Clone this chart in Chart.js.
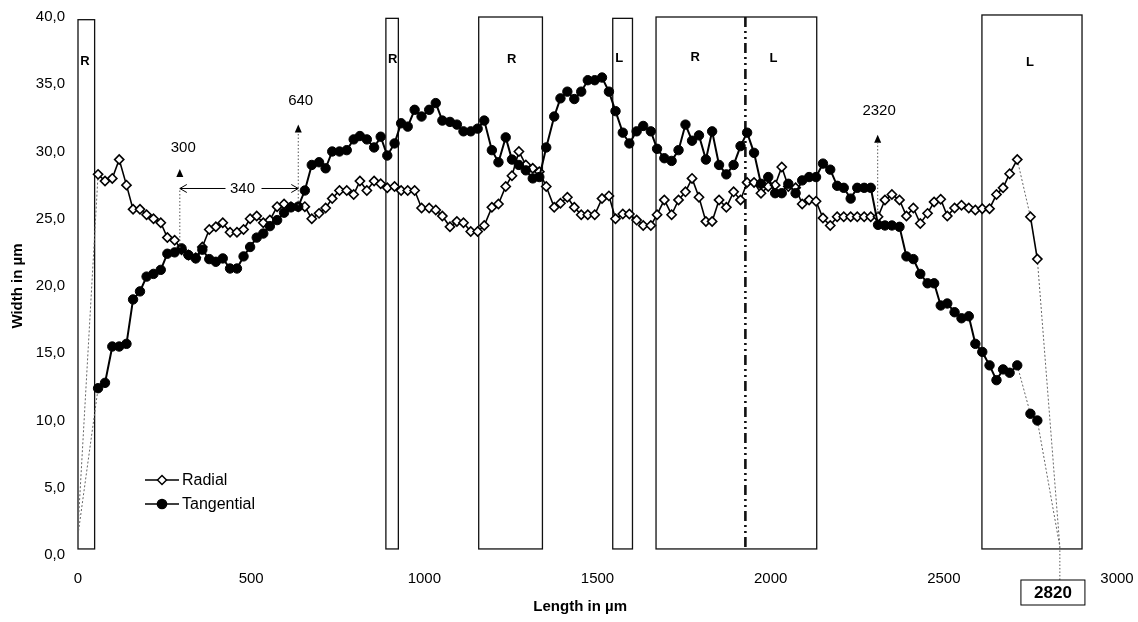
<!DOCTYPE html>
<html><head><meta charset="utf-8">
<script src="https://cdn.jsdelivr.net/npm/chart.js@4.4.1/dist/chart.umd.min.js"></script>
<style>html,body{margin:0;padding:0;background:#fff;}#wrap{width:1138px;height:622px;}</style>
</head><body><div id="wrap"><canvas id="c" width="1138" height="622"></canvas></div>
<script>
// ---- data (µm along the ray, width in µm) ----
const lengths = [0,58,78,99,119,140,159,179,198,218,
239,258,279,299,319,340,359,379,398,418,
439,459,478,497,516,535,554,575,595,615,
636,655,675,696,715,734,755,776,796,814,
834,855,874,893,914,933,952,972,992,1014,
1033,1052,1074,1094,1113,1134,1154,1173,1195,1214,
1235,1253,1273,1293,1313,1332,1352,1375,1393,1413,
1433,1453,1472,1492,1513,1533,1552,1573,1592,1613,
1632,1654,1672,1693,1714,1734,1754,1773,1793,1813,
1831,1851,1872,1893,1913,1932,1952,1972,1993,2013,
2032,2051,2072,2091,2111,2131,2151,2172,2192,2211,
2231,2250,2270,2289,2310,2330,2350,2372,2392,2412,
2432,2453,2472,2491,2510,2531,2551,2572,2591,2611,
2632,2652,2671,2690,2712,2750,2770,2835];
const radial = [2.0,28.3,27.8,28.0,29.4,27.5,25.7,25.7,25.3,25.0,
24.7,23.6,23.4,22.7,22.3,22.1,22.9,24.2,24.4,24.7,
24.0,24.0,24.2,25.0,25.2,24.7,24.9,25.9,26.1,25.9,
25.9,25.9,25.0,25.4,25.8,26.5,27.1,27.1,26.8,27.8,
27.1,27.8,27.6,27.3,27.4,27.1,27.1,27.1,25.8,25.8,
25.65,25.2,24.4,24.8,24.7,24.05,24.05,24.5,25.85,26.1,
27.4,28.2,30.0,29.0,28.75,28.5,27.4,25.85,26.15,26.6,
25.85,25.3,25.3,25.3,26.5,26.7,25.0,25.35,25.35,24.9,
24.5,24.5,25.3,26.4,25.3,26.4,27.0,28.0,26.6,24.8,
24.8,26.4,25.85,27.0,26.4,27.7,27.7,26.9,27.4,27.5,
28.85,27.4,27.3,26.1,26.4,26.3,25.05,24.5,25.15,25.15,
25.15,25.15,25.15,25.15,25.15,26.4,26.8,26.4,25.2,25.8,
24.65,25.4,26.25,26.45,25.2,25.8,26.0,25.8,25.65,25.75,
25.75,26.8,27.3,28.35,29.4,25.15,22.0,0.6];
const tangential = [1.5,12.4,12.8,15.5,15.5,15.7,19.0,19.6,20.7,20.9,
21.2,22.4,22.5,22.8,22.3,22.05,22.7,22.0,21.8,22.05,
21.3,21.3,22.2,22.9,23.6,23.9,24.45,24.9,25.45,25.85,
25.9,27.1,29.0,29.2,28.75,30.0,30.0,30.1,30.9,31.15,
30.9,30.3,31.1,29.7,30.6,32.1,31.85,33.1,32.6,33.1,
33.6,32.3,32.2,32.0,31.5,31.5,31.7,32.3,30.1,29.2,
31.05,29.4,29.0,28.6,28.0,28.1,30.3,32.6,33.95,34.45,
33.9,34.45,35.3,35.3,35.5,34.45,33.0,31.4,30.6,31.5,
31.9,31.5,30.2,29.5,29.3,30.1,32.0,30.8,31.2,29.4,
31.5,29.0,28.3,29.0,30.4,31.4,29.9,27.6,28.1,26.9,
26.9,27.6,26.9,27.85,28.1,28.1,29.1,28.65,27.45,27.3,
26.5,27.3,27.3,27.3,24.55,24.5,24.5,24.4,22.2,22.0,
20.9,20.2,20.2,18.55,18.7,18.05,17.6,17.75,15.7,15.1,
14.1,13.0,13.8,13.55,14.1,10.5,10.0,0.6];
const seriesNames = ['Radial','Tangential'];
const xTickValues = [0,500,1000,1500,2000,2500,3000];
const yTickValues = [0,5,10,15,20,25,30,35,40];
// zones (R / L boxes)
const zoneStart = [0,889,1157,1544,1669,2610];
const zoneEnd   = [48,925,1341,1601,2133,2899];
const zoneTop   = [39.8,39.9,40.0,39.9,40.0,40.15];
const zoneLetters = ['R','R','R','L','R','L','L'];
const letterAt   = [20,909,1252,1563,1782,2008,2749];
const letterLevel= [36.7,36.85,36.85,36.9,37.0,36.9,36.6];
const boundaryAt = 1927;
const endLabel = '2820';
</script>
<script>
Chart.defaults.font.family = "'Liberation Sans', Arial, sans-serif";
Chart.defaults.color = '#000';
const FF = "'Liberation Sans', Arial, sans-serif";

const gap = ctx => ctx.p1.parsed.x - ctx.p0.parsed.x > 30;
const endPt = ctx => (ctx.dataIndex === 0 || ctx.dataIndex === lengths.length - 1) ? 0 : undefined;

function tri(ctx, x, y) { // filled triangle, tip at (x,y) pointing up
  ctx.beginPath(); ctx.moveTo(x, y); ctx.lineTo(x - 3.5, y + 8); ctx.lineTo(x + 3.5, y + 8); ctx.closePath(); ctx.fill();
}
function vdots(ctx, x, y0, y1) {
  ctx.save(); ctx.strokeStyle = '#555'; ctx.lineWidth = 1; ctx.setLineDash([1.5, 2]);
  ctx.beginPath(); ctx.moveTo(x, y0); ctx.lineTo(x, y1); ctx.stroke(); ctx.restore();
}

const deco = {
  id: 'deco',
  beforeDatasetsDraw(chart) {
    const {ctx, scales: {x, y}} = chart;
    ctx.save();
    ctx.strokeStyle = '#111'; ctx.lineWidth = 1.3;
    for (let i = 0; i < zoneStart.length; i++) {
      const x0 = x.getPixelForValue(zoneStart[i]), x1 = x.getPixelForValue(zoneEnd[i]);
      const t = y.getPixelForValue(zoneTop[i]), b = y.getPixelForValue(0.45);
      ctx.strokeRect(x0, t, x1 - x0, b - t);
    }
    // dash-dot-dot boundary
    ctx.lineWidth = 2.6; ctx.setLineDash([10, 4, 2, 4, 2, 4]);
    const bx = x.getPixelForValue(boundaryAt);
    ctx.beginPath(); ctx.moveTo(bx, y.getPixelForValue(40)); ctx.lineTo(bx, y.getPixelForValue(0.45)); ctx.stroke();
    ctx.setLineDash([]);
    // letters
    ctx.fillStyle = '#000'; ctx.font = 'bold 13px ' + FF; ctx.textAlign = 'center'; ctx.textBaseline = 'middle';
    zoneLetters.forEach((l, i) => ctx.fillText(l, x.getPixelForValue(letterAt[i]), y.getPixelForValue(letterLevel[i])));
    ctx.restore();
  },
  afterDatasetsDraw(chart) {
    const {ctx, chartArea: ca, scales: {x, y}} = chart;
    ctx.save();
    ctx.fillStyle = '#000'; ctx.strokeStyle = '#000';
    ctx.font = '15px ' + FF; ctx.textAlign = 'center'; ctx.textBaseline = 'middle';
    // 300 marker
    let px = x.getPixelForValue(294);
    ctx.fillText('300', x.getPixelForValue(304), y.getPixelForValue(30.25));
    tri(ctx, px, y.getPixelForValue(28.7));
    vdots(ctx, px, y.getPixelForValue(27.1), y.getPixelForValue(22.7));
    // 640 marker
    let qx = x.getPixelForValue(636);
    ctx.fillText('640', x.getPixelForValue(643), y.getPixelForValue(33.8));
    tri(ctx, qx, y.getPixelForValue(32.0));
    vdots(ctx, qx, y.getPixelForValue(31.3), y.getPixelForValue(26.0));
    // 340 double arrow
    const ay = y.getPixelForValue(27.25);
    const tx = x.getPixelForValue(475);
    ctx.fillText('340', tx, ay);
    ctx.lineWidth = 1;
    ctx.beginPath();
    ctx.moveTo(px, ay); ctx.lineTo(tx - 17, ay);
    ctx.moveTo(tx + 19, ay); ctx.lineTo(qx, ay);
    ctx.moveTo(px + 7, ay - 4); ctx.lineTo(px, ay); ctx.lineTo(px + 7, ay + 4);
    ctx.moveTo(qx - 7, ay - 4); ctx.lineTo(qx, ay); ctx.lineTo(qx - 7, ay + 4);
    ctx.stroke();
    // 2320 marker
    const rx = x.getPixelForValue(2309);
    ctx.fillText('2320', x.getPixelForValue(2313), y.getPixelForValue(33.0));
    tri(ctx, rx, y.getPixelForValue(31.25));
    vdots(ctx, rx, y.getPixelForValue(30.7), y.getPixelForValue(25.3));
    // end label box
    const ex = x.getPixelForValue(lengths[lengths.length - 1]);
    const ey = y.getPixelForValue(radial[radial.length - 1]);
    const bxc = x.getPixelForValue(2815);
    const bTop = ca.bottom + 25, bw = 64, bh = 25;
    vdots(ctx, ex, ey, bTop);
    ctx.lineWidth = 1; ctx.setLineDash([]);
    ctx.strokeRect(bxc - bw / 2, bTop, bw, bh);
    ctx.font = 'bold 17px ' + FF;
    ctx.fillText(endLabel, bxc, bTop + bh / 2 + 1);
    // legend
    const lx = ca.left + 67, ly1 = ca.top + 463, ly2 = ca.top + 487;
    ctx.font = '16px ' + FF; ctx.textAlign = 'left';
    [[ly1, 'rectRot', '#fff'], [ly2, 'circle', '#000']].forEach((r, i) => {
      ctx.lineWidth = 1.5; ctx.strokeStyle = '#000';
      ctx.beginPath(); ctx.moveTo(lx, r[0]); ctx.lineTo(lx + 34, r[0]); ctx.stroke();
      ctx.fillStyle = r[2];
      Chart.helpers.drawPoint(ctx, {pointStyle: r[1], radius: i ? 4.6 : 4.5, borderWidth: 1.5}, lx + 17, r[0]);
      ctx.fillStyle = '#000';
      ctx.fillText(seriesNames[i], lx + 37, r[0] + 1);
    });
    // axis titles
    ctx.font = 'bold 15px ' + FF; ctx.textAlign = 'center';
    ctx.fillText('Length in µm', x.getPixelForValue(1450), ca.bottom + 52);
    ctx.translate(ca.left - 60, (ca.top + ca.bottom) / 2);
    ctx.rotate(-Math.PI / 2);
    ctx.fillText('Width in µm', 0, 0);
    ctx.restore();
  }
};

const mk = vals => lengths.map((v, i) => ({x: v, y: vals[i]}));
new Chart(document.getElementById('c'), {
  type: 'line',
  data: {
    datasets: [
      { label: seriesNames[1], data: mk(tangential), borderColor: '#000', borderWidth: 2,
        pointStyle: 'circle', pointRadius: ctx => endPt(ctx) ?? 4.7, pointBackgroundColor: '#000', pointBorderColor: '#000',
        pointBorderWidth: 1, tension: 0,
        segment: { borderDash: c => gap(c) ? [2, 2] : undefined, borderColor: c => gap(c) ? '#666' : undefined, borderWidth: c => gap(c) ? 1 : undefined } },
      { label: seriesNames[0], data: mk(radial), borderColor: '#000', borderWidth: 1.6,
        pointStyle: 'rectRot', pointRadius: ctx => endPt(ctx) ?? 4.6, pointBackgroundColor: '#fff', pointBorderColor: '#000',
        pointBorderWidth: 1.6, tension: 0,
        segment: { borderDash: c => gap(c) ? [2, 2] : undefined, borderColor: c => gap(c) ? '#666' : undefined, borderWidth: c => gap(c) ? 1 : undefined } }
    ]
  },
  options: {
    responsive: false, animation: false, devicePixelRatio: 1,
    layout: { padding: { left: 0, right: 21, top: 17, bottom: 0 } },
    plugins: { legend: { display: false }, tooltip: { enabled: false } },
    scales: {
      x: { type: 'linear', min: 0, max: 3000,
        afterBuildTicks: s => { s.ticks = xTickValues.map(v => ({value: v})); },
        ticks: { font: { size: 15 }, color: '#000', padding: 15, maxRotation: 0, autoSkip: false, callback: v => String(v) },
        grid: { display: false, drawTicks: false }, border: { display: false },
        afterFit: s => { s.height = 67; s.paddingLeft = 0; s.paddingRight = 0; } },
      y: { min: 0, max: 40,
        afterBuildTicks: s => { s.ticks = yTickValues.map(v => ({value: v})); },
        ticks: { font: { size: 15 }, color: '#000', padding: 13, callback: v => v.toFixed(1).replace('.', ',') },
        grid: { display: false, drawTicks: false }, border: { display: false },
        afterFit: s => { s.width = 78; s.paddingTop = 0; s.paddingBottom = 0; } }
    }
  },
  plugins: [deco]
});
</script>
</body></html>
